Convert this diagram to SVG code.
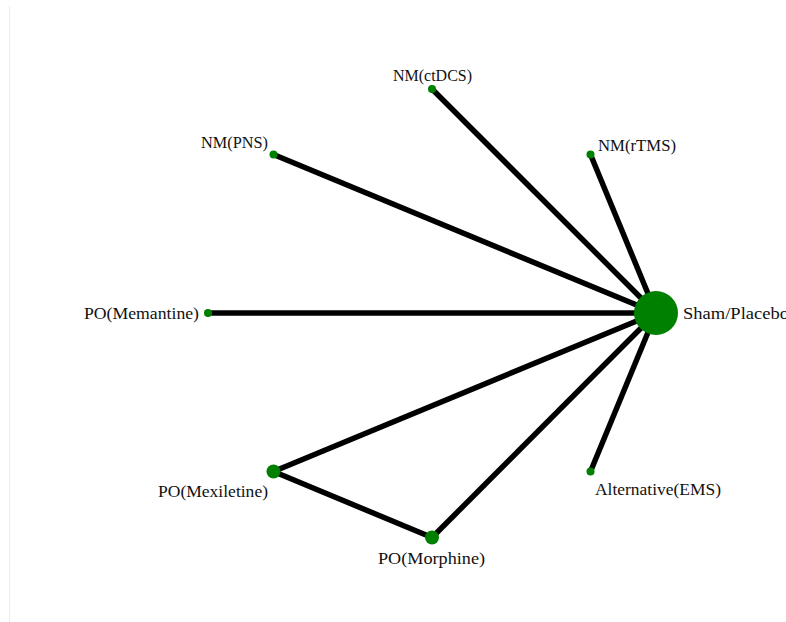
<svg xmlns="http://www.w3.org/2000/svg" width="786" height="622" viewBox="0 0 786 622">
<style>
.e{stroke:#000;stroke-width:5.5;fill:none}
.n{fill:#008000}
.t{font-family:"Liberation Serif","DejaVu Serif",serif;font-size:16.5px;fill:#111}
</style>
<rect width="786" height="622" fill="#fff"/>
<line x1="9.5" y1="6" x2="9.5" y2="622" stroke="#ececec" stroke-width="1"/>
<g id="edges">
<line class="e" x1="656" y1="313" x2="432" y2="89"/>
<line class="e" x1="656" y1="313" x2="590.5" y2="154.5"/>
<line class="e" x1="656" y1="313" x2="273.5" y2="154.5"/>
<line class="e" x1="656" y1="313" x2="208" y2="313"/>
<line class="e" x1="656" y1="313" x2="273.5" y2="471.5"/>
<line class="e" x1="656" y1="313" x2="432" y2="537.5"/>
<line class="e" x1="656" y1="313" x2="590.5" y2="471.5"/>
<line class="e" x1="273.5" y1="471.5" x2="432" y2="537.5"/>
</g>
<g id="sham"><circle class="n" cx="656" cy="313" r="22"/><text class="t" x="683" y="319" textLength="106" lengthAdjust="spacingAndGlyphs">Sham/Placebo</text></g>
<g id="ctdcs"><circle class="n" cx="432" cy="89" r="4"/><text class="t" x="393" y="81" textLength="79" lengthAdjust="spacingAndGlyphs">NM(ctDCS)</text></g>
<g id="rtms"><circle class="n" cx="590.5" cy="154.5" r="4"/><text class="t" x="598" y="151" textLength="78" lengthAdjust="spacingAndGlyphs">NM(rTMS)</text></g>
<g id="pns"><circle class="n" cx="273.5" cy="154.5" r="4"/><text class="t" x="201" y="148" textLength="67" lengthAdjust="spacingAndGlyphs">NM(PNS)</text></g>
<g id="memantine"><circle class="n" cx="208" cy="313" r="4"/><text class="t" x="84" y="319" textLength="115" lengthAdjust="spacingAndGlyphs">PO(Memantine)</text></g>
<g id="mexiletine"><circle class="n" cx="273.5" cy="471.5" r="7"/><text class="t" x="158" y="497" textLength="110" lengthAdjust="spacingAndGlyphs">PO(Mexiletine)</text></g>
<g id="morphine"><circle class="n" cx="432" cy="537.5" r="7"/><text class="t" x="378" y="564" textLength="107" lengthAdjust="spacingAndGlyphs">PO(Morphine)</text></g>
<g id="ems"><circle class="n" cx="590.5" cy="471.5" r="4"/><text class="t" x="595" y="495" textLength="126" lengthAdjust="spacingAndGlyphs">Alternative(EMS)</text></g>
</svg>
